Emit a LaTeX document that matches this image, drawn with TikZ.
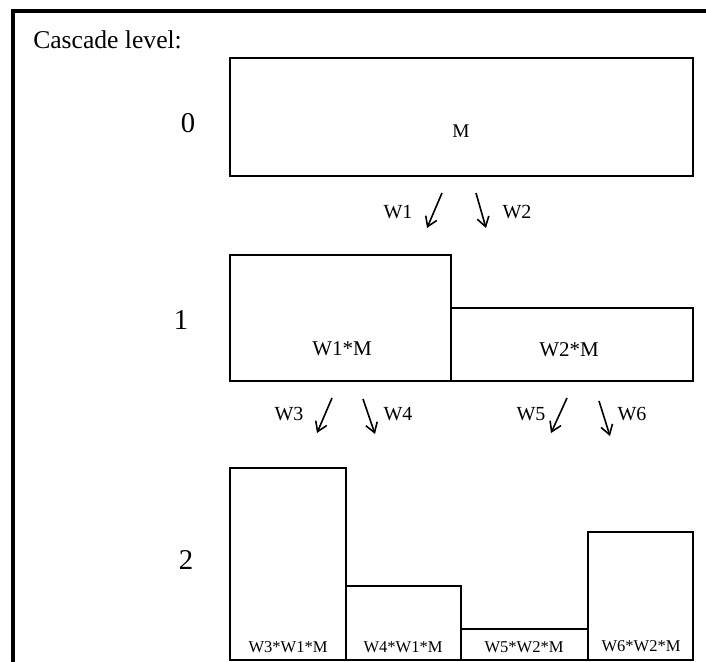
\documentclass[tikz,border=0pt]{standalone}
\usepackage{fontspec}
\setmainfont{Liberation Serif}
\usetikzlibrary{arrows.meta}
\tikzset{
  boxline/.style={draw=black, line width=1.5pt},
  frameline/.style={draw=black, line width=2.3pt},
  warrow/.style={draw=black, line width=1.2pt, -{Straight Barb[length=7pt,width=9pt,line width=1.2pt]}},
  wlab/.style={font=\fontsize{15}{18}\selectfont, anchor=base, inner sep=0pt},
  inlab/.style={font=\fontsize{15.75}{18}\selectfont, anchor=base, inner sep=0pt},
  smalllab/.style={font=\fontsize{12.4}{14}\selectfont, anchor=base, inner sep=0pt},
  levlab/.style={font=\fontsize{21.5}{24}\selectfont, anchor=base, inner sep=0pt}
}
\begin{document}
\begin{tikzpicture}[x=0.75pt,y=-0.75pt]
\useasboundingbox (0,0) rectangle (706,661);
% frame
\draw[frameline] (13,700) -- (13,11) -- (720,11);
% title and levels
\node[font=\fontsize{19.2}{22}\selectfont, anchor=base west, inner sep=0pt] (title) at (33,48) {Cascade level:};
\node[levlab] (l0) at (188,132) {0};
\node[levlab] (l1) at (181,329) {1};
\node[levlab] (l2) at (186,569) {2};
% level 0
\draw[boxline] (230,58) rectangle (693,176);
\node[font=\fontsize{14.5}{16}\selectfont, anchor=base, inner sep=0pt] (m) at (461,137) {M};
% arrows 0 -> 1
\coordinate (a1s) at (442,193); \coordinate (a1e) at (427,228);
\coordinate (a2s) at (476,193); \coordinate (a2e) at (486,228);
\draw[warrow] (a1s) -- (a1e);
\draw[warrow] (a2s) -- (a2e);
\node[wlab] (w1) at (398,218) {W1};
\node[wlab] (w2) at (517,218) {W2};
% level 1
\draw[boxline] (230,255) rectangle (451,381);
\draw[boxline] (451,308) rectangle (693,381);
\node[inlab] (w1m) at (342,355) {W1*M};
\node[inlab] (w2m) at (569,356) {W2*M};
% arrows 1 -> 2
\coordinate (a3s) at (332,398); \coordinate (a3e) at (317,433);
\coordinate (a4s) at (363,399); \coordinate (a4e) at (375,434);
\coordinate (a5s) at (567,398); \coordinate (a5e) at (551,433);
\coordinate (a6s) at (599,401); \coordinate (a6e) at (610,436);
\draw[warrow] (a3s) -- (a3e);
\draw[warrow] (a4s) -- (a4e);
\draw[warrow] (a5s) -- (a5e);
\draw[warrow] (a6s) -- (a6e);
\node[wlab] (w3) at (289,420) {W3};
\node[wlab] (w4) at (398,420) {W4};
\node[wlab] (w5) at (531,420) {W5};
\node[wlab] (w6) at (632,420) {W6};
% level 2
\draw[boxline] (230,468) rectangle (346,660);
\draw[boxline] (346,586) rectangle (461,660);
\draw[boxline] (461,629) rectangle (588,660);
\draw[boxline] (588,532) rectangle (693,660);
\node[smalllab] (p1) at (288,652) {W3*W1*M};
\node[smalllab] (p2) at (403,652) {W4*W1*M};
\node[smalllab] (p3) at (524,652) {W5*W2*M};
\node[smalllab] (p4) at (641,651) {W6*W2*M};
\end{tikzpicture}
\end{document}
